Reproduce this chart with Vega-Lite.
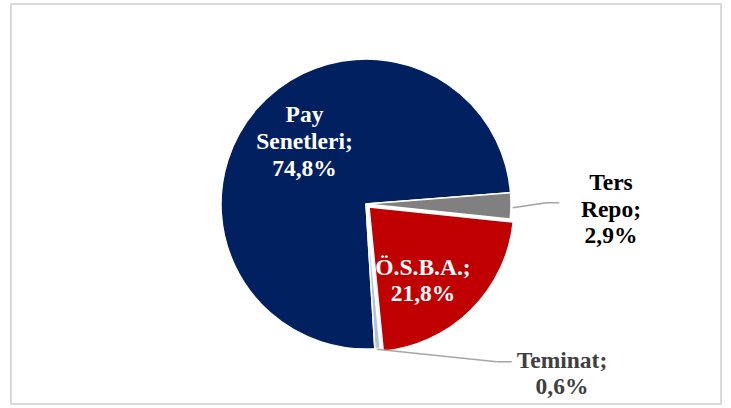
{
  "$schema": "https://vega.github.io/schema/vega-lite/v6.json",
  "width": 710,
  "height": 400,
  "autosize": {"type": "none"},
  "padding": {"left": 11, "right": 10, "top": 4, "bottom": 4},
  "background": "white",
  "config": {"view": {"stroke": "#d9d9d9", "strokeWidth": 2}},
  "data": {
    "values": [
      {"cat": "Pay Senetleri", "value": 74.8, "ord": 1, "label": "Pay\nSenetleri;\n74,8%"},
      {"cat": "Ters Repo", "value": 2.9, "ord": 2, "label": "Ters\nRepo;\n2,9%"},
      {"cat": "Ö.S.B.A.", "value": 21.8, "ord": 3, "label": "Ö.S.B.A.;\n21,8%"},
      {"cat": "Teminat", "value": 0.6, "ord": 4, "label": "Teminat;\n0,6%"}
    ]
  },
  "encoding": {
    "theta": {"field": "value", "type": "quantitative", "stack": true, "scale": {"domain": [0, 100.1], "range": [3.080506, 9.363691]}},
    "order": {"field": "ord", "type": "quantitative"}
  },
  "layer": [
    {
      "mark": {"type": "arc", "radius": 145, "stroke": "white", "strokeWidth": 1.5},
      "encoding": {
        "color": {"field": "cat", "type": "nominal", "legend": null, "scale": {"domain": ["Pay Senetleri", "Ters Repo", "Ö.S.B.A.", "Teminat"], "range": ["#002060", "#808080", "#c00000", "#b4c2da"]}},
        "opacity": {"condition": {"test": "datum.cat === 'Ö.S.B.A.'", "value": 0}, "value": 1}
      }
    },
    {
      "mark": {"type": "arc", "radius": 145, "stroke": "white", "strokeWidth": 1.5, "xOffset": 3, "yOffset": 3},
      "encoding": {
        "x": {"value": {"expr": "width/2"}},
        "y": {"value": {"expr": "height/2"}},
        "color": {"field": "cat", "type": "nominal", "legend": null},
        "opacity": {"condition": {"test": "datum.cat === 'Ö.S.B.A.'", "value": 1}, "value": 0}
      }
    },
    {
      "transform": [{"stack": "value", "groupby": [], "sort": [{"field": "ord", "order": "ascending"}], "as": ["v0", "v1"]}],
      "mark": {"type": "arc", "filled": false, "color": "#a6a6a6", "strokeWidth": 1.5, "radius": 34.4, "radius2": 0, "thetaOffset": -6.350952, "theta2Offset": -6.532984, "xOffset": 146.7, "yOffset": 3.7},
      "encoding": {
        "theta": {"field": "v0", "type": "quantitative"},
        "theta2": {"field": "v1"},
        "x": {"value": {"expr": "width/2"}},
        "y": {"value": {"expr": "height/2"}},
        "strokeOpacity": {"condition": {"test": "datum.cat === 'Ters Repo'", "value": 1}, "value": 0}
      }
    },
    {
      "transform": [{"stack": "value", "groupby": [], "sort": [{"field": "ord", "order": "ascending"}], "as": ["v0", "v1"]}],
      "mark": {"type": "arc", "filled": false, "color": "#a6a6a6", "strokeWidth": 1.5, "radius": 12.6, "radius2": 0, "thetaOffset": -6.204858, "theta2Offset": -6.386894, "xOffset": 180.7, "yOffset": -1.3},
      "encoding": {
        "theta": {"field": "v0", "type": "quantitative"},
        "theta2": {"field": "v1"},
        "x": {"value": {"expr": "width/2"}},
        "y": {"value": {"expr": "height/2"}},
        "strokeOpacity": {"condition": {"test": "datum.cat === 'Ters Repo'", "value": 1}, "value": 0}
      }
    },
    {
      "transform": [{"stack": "value", "groupby": [], "sort": [{"field": "ord", "order": "ascending"}], "as": ["v0", "v1"]}],
      "mark": {"type": "arc", "filled": false, "color": "#a6a6a6", "strokeWidth": 1.5, "radius": 120.6, "radius2": 0, "thetaOffset": -7.652252, "theta2Offset": -7.689913, "xOffset": 10.7, "yOffset": 145.3},
      "encoding": {
        "theta": {"field": "v0", "type": "quantitative"},
        "theta2": {"field": "v1"},
        "x": {"value": {"expr": "width/2"}},
        "y": {"value": {"expr": "height/2"}},
        "strokeOpacity": {"condition": {"test": "datum.cat === 'Teminat'", "value": 1}, "value": 0}
      }
    },
    {
      "transform": [{"stack": "value", "groupby": [], "sort": [{"field": "ord", "order": "ascending"}], "as": ["v0", "v1"]}],
      "mark": {"type": "arc", "filled": false, "color": "#a6a6a6", "strokeWidth": 1.5, "radius": 15, "radius2": 0, "thetaOffset": -7.755234, "theta2Offset": -7.792895, "xOffset": 130.7, "yOffset": 157.7},
      "encoding": {
        "theta": {"field": "v0", "type": "quantitative"},
        "theta2": {"field": "v1"},
        "x": {"value": {"expr": "width/2"}},
        "y": {"value": {"expr": "height/2"}},
        "strokeOpacity": {"condition": {"test": "datum.cat === 'Teminat'", "value": 1}, "value": 0}
      }
    },
    {
      "mark": {"type": "text", "radius": 94, "dx": 9.4, "dy": -27, "font": "Liberation Serif", "fontWeight": "bold", "fontSize": 23.5, "lineHeight": 27, "lineBreak": "\n", "color": "white", "align": "center", "baseline": "middle"},
      "encoding": {"text": {"condition": {"test": "datum.cat === 'Pay Senetleri'", "field": "label"}, "value": ""}}
    },
    {
      "mark": {"type": "text", "radius": 90, "dx": -6.5, "dy": 0.7, "font": "Liberation Serif", "fontWeight": "bold", "fontSize": 23.5, "lineHeight": 26, "lineBreak": "\n", "color": "white", "align": "center", "baseline": "middle"},
      "encoding": {"text": {"condition": {"test": "datum.cat === 'Ö.S.B.A.'", "field": "label"}, "value": ""}}
    },
    {
      "mark": {"type": "text", "radius": 245, "dy": -24.1, "font": "Liberation Serif", "fontWeight": "bold", "fontSize": 23.5, "lineHeight": 26.5, "lineBreak": "\n", "color": "black", "align": "center", "baseline": "middle"},
      "encoding": {"text": {"condition": {"test": "datum.cat === 'Ters Repo'", "field": "label"}, "value": ""}}
    },
    {
      "mark": {"type": "text", "radius": 170, "dx": 182.4, "dy": -12.5, "font": "Liberation Serif", "fontWeight": "bold", "fontSize": 23.5, "lineHeight": 26, "lineBreak": "\n", "color": "#404040", "align": "center", "baseline": "middle"},
      "encoding": {"text": {"condition": {"test": "datum.cat === 'Teminat'", "field": "label"}, "value": ""}}
    }
  ]
}
